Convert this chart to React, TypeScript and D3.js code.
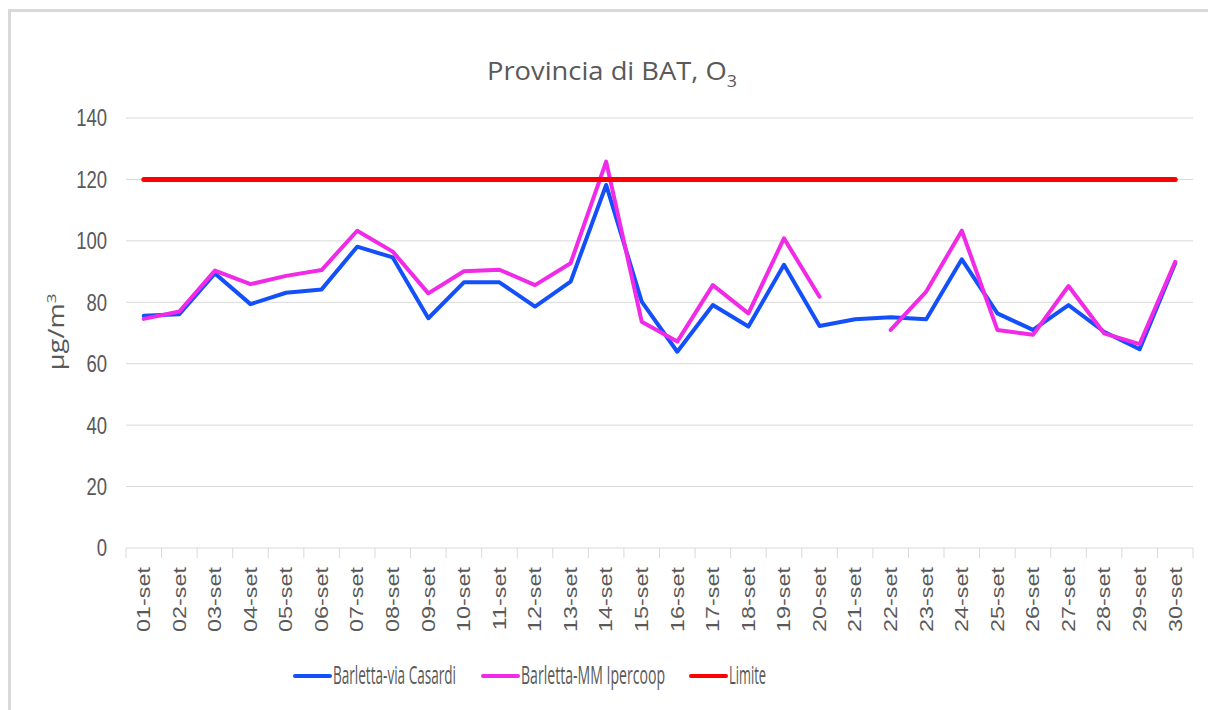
import React from "react";
import * as d3 from "d3";

const days = [
  "01-set","02-set","03-set","04-set","05-set","06-set","07-set","08-set","09-set","10-set",
  "11-set","12-set","13-set","14-set","15-set","16-set","17-set","18-set","19-set","20-set",
  "21-set","22-set","23-set","24-set","25-set","26-set","27-set","28-set","29-set","30-set",
];
const casardi: (number | null)[] = [
  75.6, 76.1, 89.4, 79.4, 83.1, 84.2, 98.1, 94.6, 74.8, 86.5,
  86.5, 78.6, 86.7, 118.2, 80.2, 63.9, 79.1, 72.1, 92.2, 72.3,
  74.5, 75.1, 74.5, 94.0, 76.4, 71.0, 79.1, 70.4, 64.7, 92.7,
];
const ipercoop: (number | null)[] = [
  74.6, 77.0, 90.3, 85.9, 88.6, 90.5, 103.3, 96.5, 82.9, 90.1,
  90.6, 85.6, 92.7, 125.8, 73.7, 67.2, 85.6, 76.4, 100.8, 81.8,
  null, 71.0, 83.5, 103.3, 71.0, 69.4, 85.3, 69.9, 66.4, 93.2,
];
const limite: number[] = days.map(() => 120);
const yTicks = [0, 20, 40, 60, 80, 100, 120, 140];

const series = [
  { name: "Barletta-via Casardi", values: casardi, color: "#1450FA", width: 4, lx: 295, tl: 123 },
  { name: "Barletta-MM Ipercoop", values: ipercoop, color: "#F02AE6", width: 4, lx: 483, tl: 144 },
  { name: "Limite", values: limite as (number | null)[], color: "#FF0000", width: 5, lx: 691, tl: 37 },
];

const W = 1208, H = 710;
const left = 126, right = 1193, top = 118, bottom = 548;
const SY = 1.3;
const textColor = "#595959";

export default function App() {
  const x = d3.scaleBand<string>().domain(days).range([left, right]).padding(0);
  const bw = x.bandwidth();
  const cx = (d: string) => (x(d) as number) + bw / 2;
  const y = d3.scaleLinear().domain([0, 140]).range([bottom, top]);

  const line = d3
    .line<number | null>()
    .defined((v) => v !== null)
    .x((_, i) => cx(days[i]))
    .y((v) => y(v as number));

  const boundaries = d3.range(days.length + 1).map((k) => left + k * bw);

  return (
    <svg
      width={W}
      height={H}
      style={{ position: "absolute", left: 0, top: 0, display: "block", background: "#fff" }}
      fontFamily="'Liberation Sans', Arial, sans-serif"
    >
      <rect x={9.5} y={10.5} width={1220} height={720} fill="#fff" stroke="#d9d9d9" strokeWidth={3} />

      {/* Title */}
      <text
        x={612}
        y={80}
        textAnchor="middle"
        fontSize={26}
        fill={textColor}
        fontFamily="'Open Sans', Lato, sans-serif"
        textLength={250}
        lengthAdjust="spacingAndGlyphs"
      >
        Provincia di BAT, O
        <tspan fontSize={17} dy={7}>3</tspan>
      </text>

      {/* gridlines */}
      {yTicks.map((t) => (
        <line key={"g" + t} x1={left} x2={right} y1={y(t)} y2={y(t)} stroke="#d9d9d9" strokeWidth={1} />
      ))}

      {/* y tick labels */}
      {yTicks.map((t) => (
        <text
          key={"yl" + t}
          transform={`translate(107,${y(t)}) scale(1,${SY})`}
          textAnchor="end"
          dy="0.35em"
          fontSize={18.5}
          fill={textColor}
        >
          {t}
        </text>
      ))}

      {/* x ticks */}
      {boundaries.map((bx, i) => (
        <line key={"xt" + i} x1={bx} x2={bx} y1={bottom} y2={bottom + 10} stroke="#d9d9d9" strokeWidth={1} />
      ))}

      {/* x labels */}
      {days.map((d) => (
        <text
          key={"xl" + d}
          transform={`translate(${cx(d)},567) scale(1,${SY}) rotate(-90)`}
          textAnchor="end"
          dy="0.35em"
          fontSize={18}
          fill={textColor}
        >
          {d}
        </text>
      ))}

      {/* y axis title */}
      <text
        transform={`translate(57,332) scale(1,${SY}) rotate(-90)`}
        textAnchor="middle"
        dy="0.35em"
        fontSize={21}
        fill={textColor}
        fontFamily="'Open Sans', sans-serif"
      >
        µg/m
        <tspan fontSize={13} dy={-8}>3</tspan>
      </text>

      {/* series */}
      {series.map((s) => (
        <path
          key={s.name}
          d={line(s.values) || ""}
          fill="none"
          stroke={s.color}
          strokeWidth={s.width}
          strokeLinejoin="round"
          strokeLinecap="round"
        />
      ))}

      {/* legend */}
      {series.map((s) => (
        <g key={"lg" + s.name}>
          <line x1={s.lx} x2={s.lx + 35} y1={676} y2={676} stroke={s.color} strokeWidth={4} strokeLinecap="round" />
          <text
            transform={`translate(${s.lx + 38},684) scale(1,${SY})`}
            fontSize={19}
            fill={textColor}
            fontFamily="'Open Sans', Lato, sans-serif"
            textLength={s.tl}
            lengthAdjust="spacingAndGlyphs"
          >
            {s.name}
          </text>
        </g>
      ))}
    </svg>
  );
}
